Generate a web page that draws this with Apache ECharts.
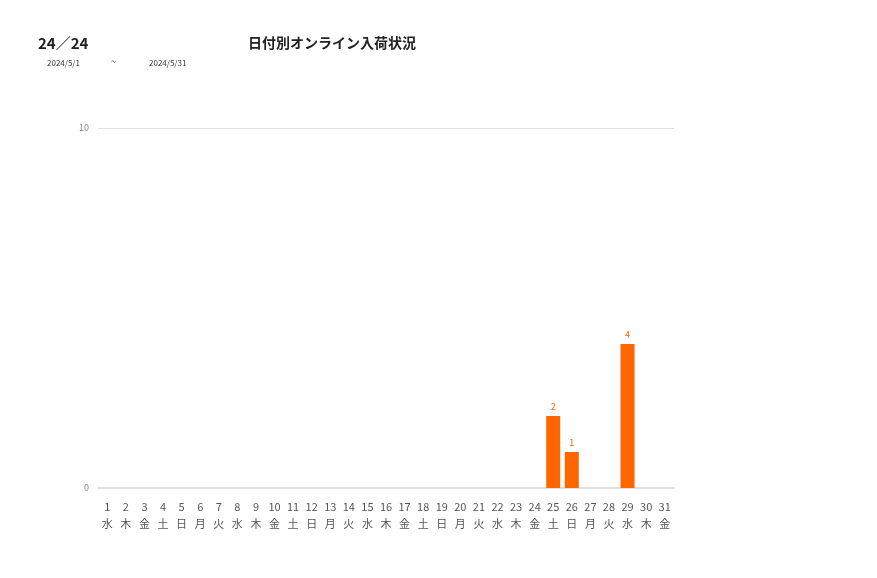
<!DOCTYPE html>
<html><head><meta charset="utf-8">
<script src="https://cdn.jsdelivr.net/npm/echarts@6/dist/echarts.min.js"></script>
<style>html,body{margin:0;padding:0;background:#fff}#c{width:877px;height:578px}</style>
</head><body><div id="c"></div>
<script>
const days = ['1','2','3','4','5','6','7','8','9','10','11','12','13','14','15','16','17','18','19','20','21','22','23','24','25','26','27','28','29','30','31'];
const weekdays = ['水','木','金','土','日','月','火','水','木','金','土','日','月','火','水','木','金','土','日','月','火','水','木','金','土','日','月','火','水','木','金'];
const values = [0,0,0,0,0,0,0,0,0,0,0,0,0,0,0,0,0,0,0,0,0,0,0,0,2,1,0,0,4,0,0];
const yTicks = [0, 10];

const categories = days.map((d, i) => d + '\n' + weekdays[i]);
const chart = echarts.init(document.getElementById('c'));
const font = '"Noto Sans CJK JP", "Noto Sans", sans-serif';
chart.setOption({
  animation: false,
  textStyle: { fontFamily: font },
  title: [
    { text: '24／24', left: 33, top: 31, textStyle: { fontSize: 15, fontWeight: 'bold', color: '#222', fontFamily: font } },
    { text: '日付別オンライン入荷状況', left: 243, top: 31, textStyle: { fontSize: 14, fontWeight: 'bold', color: '#222', fontFamily: font } },
    { text: '2024/5/1', left: 42, top: 54, textStyle: { fontSize: 8, fontWeight: 'normal', color: '#333', fontFamily: font } },
    { text: '~', left: 106, top: 52, textStyle: { fontSize: 9, fontWeight: 'normal', color: '#333', fontFamily: font } },
    { text: '2024/5/31', left: 144, top: 54, textStyle: { fontSize: 8, fontWeight: 'normal', color: '#333', fontFamily: font } }
  ],
  grid: { left: 98, right: 203, top: 128, bottom: 90 },
  xAxis: {
    type: 'category',
    data: categories,
    axisLine: { lineStyle: { color: '#e0e0e0', width: 2 } },
    axisTick: { show: false },
    axisLabel: { interval: 0, color: '#555', fontSize: 11, lineHeight: 17, margin: 10, fontFamily: font }
  },
  yAxis: {
    type: 'value',
    min: yTicks[0], max: yTicks[1], interval: yTicks[1] - yTicks[0],
    axisLine: { show: false },
    axisTick: { show: false },
    splitLine: { lineStyle: { color: '#e0e0e0' } },
    axisLabel: { color: '#888', fontSize: 9, margin: 9 }
  },
  series: [{
    type: 'bar',
    data: values.map(v => v === 0 ? null : v),
    barWidth: 14,
    itemStyle: { color: '#ff6600' },
    label: { show: true, position: 'top', color: '#ff6600', fontSize: 9, distance: 5 }
  }]
});
</script></body></html>
